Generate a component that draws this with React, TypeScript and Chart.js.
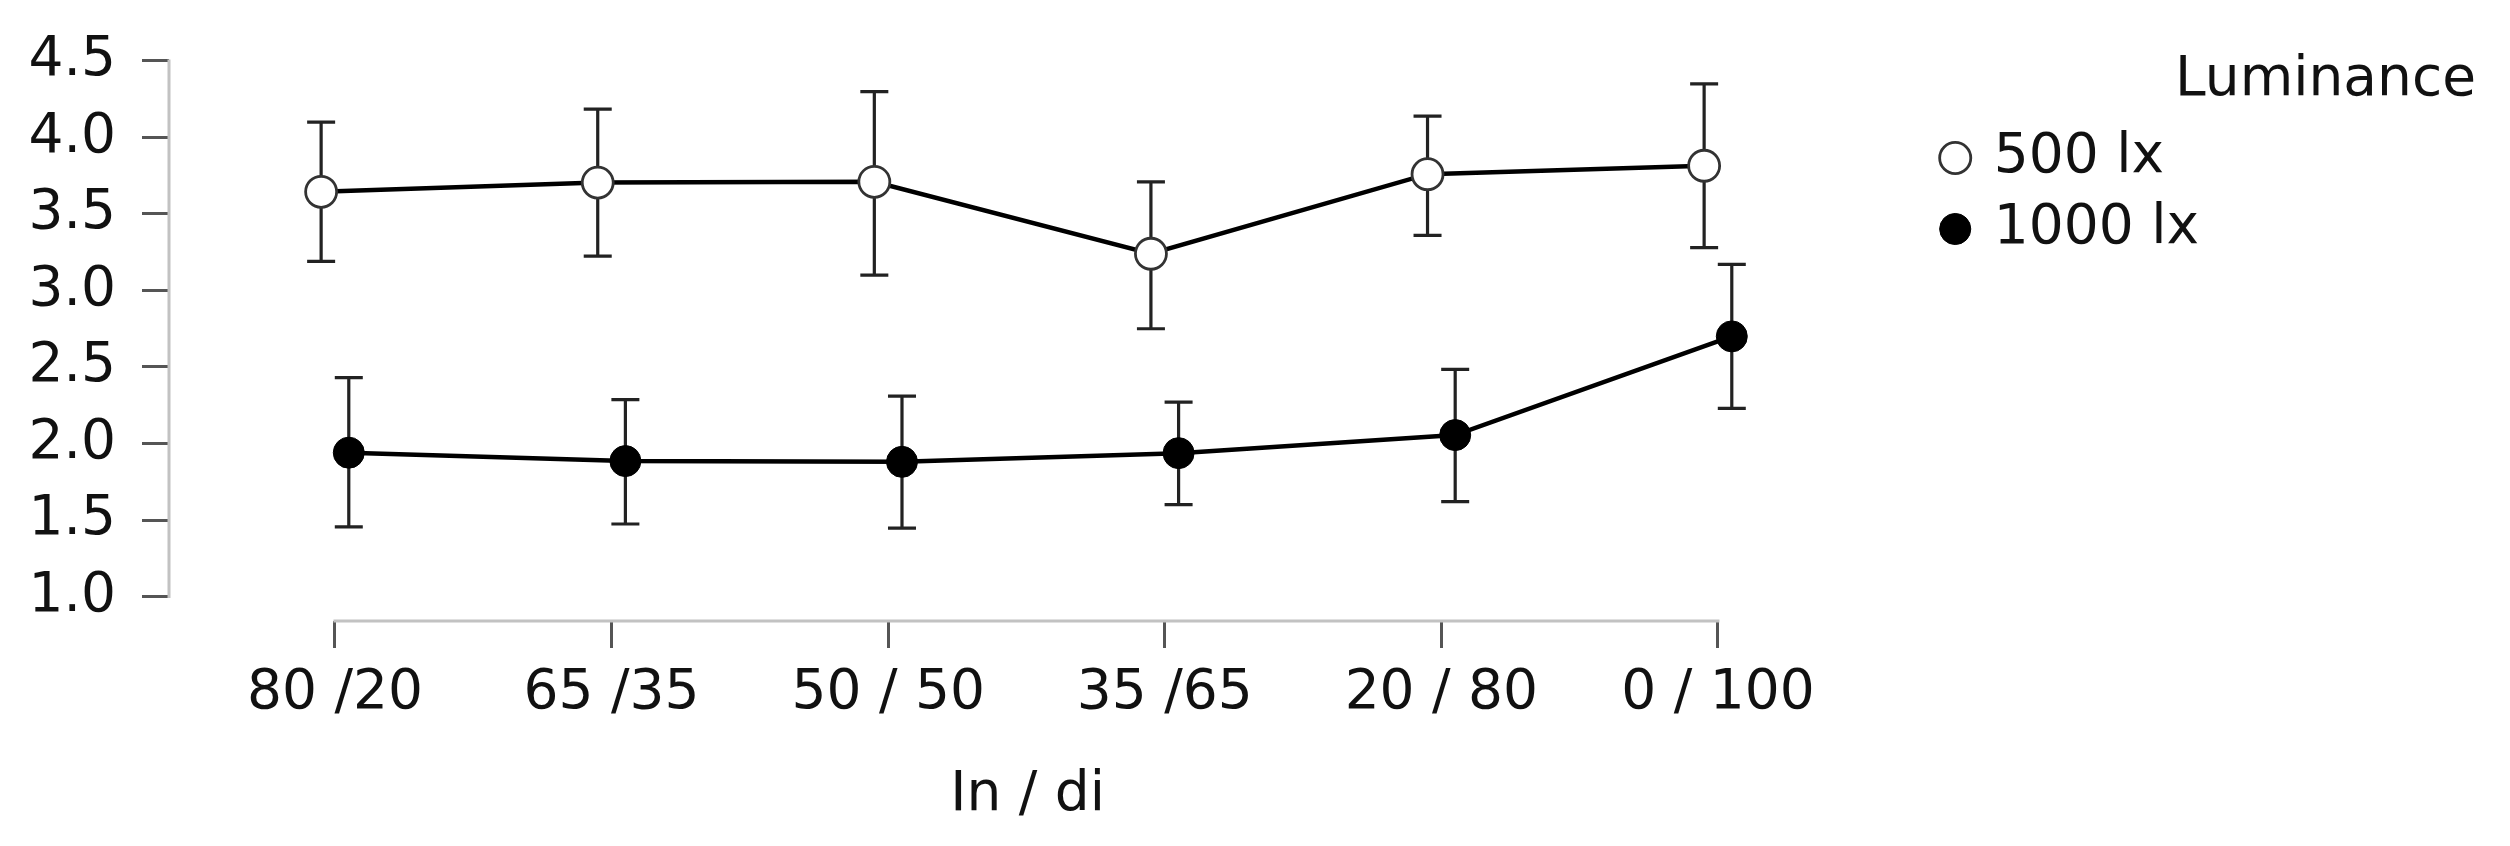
import React, { useEffect, useRef } from 'react';
import { Chart, registerables } from 'chart.js';

Chart.register(...registerables);

// mixing ratio categories (x axis)
const categories = ['80 /20', '65 /35', '50 / 50', '35 /65', '20 / 80', '0 / 100'];

// 500 lx: means and error bar ends
const lux500Mean = [3.645, 3.705, 3.71, 3.24, 3.76, 3.815];
const lux500Low = [3.19, 3.225, 3.1, 2.75, 3.36, 3.28];
const lux500High = [4.1, 4.185, 4.3, 3.71, 4.14, 4.35];

// 1000 lx: means and error bar ends
const lux1000Mean = [1.94, 1.885, 1.88, 1.937, 2.055, 2.7];
const lux1000Low = [1.455, 1.474, 1.447, 1.6, 1.62, 2.23];
const lux1000High = [2.43, 2.287, 2.31, 2.27, 2.485, 3.17];

const yTicks = [1.0, 1.5, 2.0, 2.5, 3.0, 3.5, 4.0, 4.5];

const FONT = "'DejaVu Sans', sans-serif";
const Y_MIN = 0.84;
const Y_MAX = 4.846;
const X_MIN = -0.6;
const CAT_PX = 276.6; // pixels between two categories
const DODGE = 0.05; // horizontal offset of the two series
const CAP = 14; // half width of the error bar caps

const toPoints = (mean: number[], low: number[], high: number[], shift: number) =>
  mean.map((m, i) => ({ x: i + shift, y: m, low: low[i], high: high[i] }));

// vertical error bars, drawn under the lines and markers
const errorBars = {
  id: 'errorBars',
  beforeDatasetsDraw(chart: any) {
    const { ctx, scales: { x, y } } = chart;
    ctx.save();
    ctx.strokeStyle = '#222';
    ctx.lineWidth = 3.2;
    chart.data.datasets.forEach((ds: any) => {
      ds.data.forEach((p: any) => {
        const px = x.getPixelForValue(p.x);
        const top = y.getPixelForValue(p.high);
        const bot = y.getPixelForValue(p.low);
        ctx.beginPath();
        ctx.moveTo(px, top);
        ctx.lineTo(px, bot);
        ctx.moveTo(px - CAP, top);
        ctx.lineTo(px + CAP, top);
        ctx.moveTo(px - CAP, bot);
        ctx.lineTo(px + CAP, bot);
        ctx.stroke();
      });
    });
    ctx.restore();
  },
};

// detached axis lines spanning only the tick range
const rangeFrame = {
  id: 'rangeFrame',
  beforeDatasetsDraw(chart: any) {
    const { ctx, chartArea, scales: { x, y } } = chart;
    ctx.save();
    ctx.strokeStyle = '#c2c2c2';
    ctx.lineWidth = 3;
    ctx.beginPath();
    ctx.moveTo(chartArea.left, y.getPixelForValue(yTicks[0]) + 1.5);
    ctx.lineTo(chartArea.left, y.getPixelForValue(yTicks[yTicks.length - 1]) - 1.5);
    ctx.moveTo(x.getPixelForValue(0) - 1.5, chartArea.bottom);
    ctx.lineTo(x.getPixelForValue(categories.length - 1) + 1.5, chartArea.bottom);
    ctx.stroke();
    ctx.restore();
  },
};

// move the legend box next to the plot and stretch it so the title sits at the right
const legendPlacement = {
  id: 'legendPlacement',
  beforeDraw(chart: any) {
    const lg = chart.legend;
    if (!lg) return;
    lg.left = chart.chartArea.right + 42;
    lg.right = chart.width - 26;
    lg.width = lg.right - lg.left;
  },
};

const LuminanceChart: React.FC = () => {
  const canvasRef = useRef<HTMLCanvasElement>(null);
  const chartInstance = useRef<Chart>();

  useEffect(() => {
    if (!canvasRef.current) return;
    const font = { family: FONT, size: 55 };

    chartInstance.current = new Chart(canvasRef.current, {
      type: 'line',
      data: {
        datasets: [
          {
            label: '500 lx',
            data: toPoints(lux500Mean, lux500Low, lux500High, -DODGE),
            borderColor: '#000',
            borderWidth: 4.5,
            tension: 0,
            pointStyle: 'circle',
            pointRadius: 15.5,
            pointBackgroundColor: '#fff',
            pointBorderColor: '#333',
            pointBorderWidth: 2.8,
          },
          {
            label: '1000 lx',
            data: toPoints(lux1000Mean, lux1000Low, lux1000High, DODGE),
            borderColor: '#000',
            borderWidth: 4.5,
            tension: 0,
            pointStyle: 'circle',
            pointRadius: 15.5,
            pointBackgroundColor: '#000',
            pointBorderColor: '#000',
            pointBorderWidth: 1,
          },
        ],
      },
      options: {
        animation: false,
        responsive: true,
        maintainAspectRatio: false,
        events: [],
        layout: { autoPadding: false, padding: { left: 0, top: 0, bottom: 0, right: 335 } },
        plugins: {
          legend: {
            position: 'right',
            align: 'start',
            title: {
              display: true,
              text: 'Luminance',
              position: 'end',
              color: '#111',
              font: { family: FONT, size: 55, lineHeight: 1 },
              padding: { top: 45.5, bottom: 6 },
            },
            labels: {
              usePointStyle: true,
              boxWidth: 22,
              boxHeight: 22,
              padding: 16,
              color: '#111',
              font,
            },
          },
          tooltip: { enabled: false },
        },
        scales: {
          x: {
            type: 'linear',
            min: X_MIN,
            bounds: 'data',
            afterDataLimits: (s: any) => {
              s.max = X_MIN + s.width / CAT_PX;
            },
            afterBuildTicks: (s: any) => {
              s.ticks = categories.map((_, i) => ({ value: i }));
            },
            afterFit: (s: any) => {
              s.height = 217;
              s.paddingLeft = 0;
              s.paddingRight = 0;
            },
            border: { display: false },
            grid: { drawOnChartArea: false, drawTicks: true, tickLength: 27, tickWidth: 3, tickColor: '#555' },
            ticks: {
              padding: 13,
              color: '#111',
              font,
              autoSkip: false,
              maxRotation: 0,
              callback: (v: any) => categories[v] ?? '',
            },
            title: {
              display: true,
              text: 'In / di',
              color: '#111',
              font,
              padding: { top: 0, bottom: 9 },
            },
          },
          y: {
            type: 'linear',
            min: Y_MIN,
            max: Y_MAX,
            bounds: 'data',
            afterBuildTicks: (s: any) => {
              s.ticks = yTicks.map((v) => ({ value: v }));
            },
            afterFit: (s: any) => {
              s.width = 161;
              s.paddingTop = 0;
              s.paddingBottom = 0;
            },
            border: { display: false },
            grid: { drawOnChartArea: false, drawTicks: true, tickLength: 27, tickWidth: 3, tickColor: '#555' },
            ticks: {
              padding: 26,
              color: '#111',
              font,
              callback: (v: any) => Number(v).toFixed(1),
            },
          },
        },
      },
      plugins: [errorBars, rangeFrame, legendPlacement],
    });

    return () => {
      if (chartInstance.current) {
        chartInstance.current.destroy();
      }
    };
  }, []);

  return (
    <div style={{ position: 'relative', width: 2494, height: 830 }}>
      <canvas ref={canvasRef} />
    </div>
  );
};

export default function App() {
  return <LuminanceChart />;
}
